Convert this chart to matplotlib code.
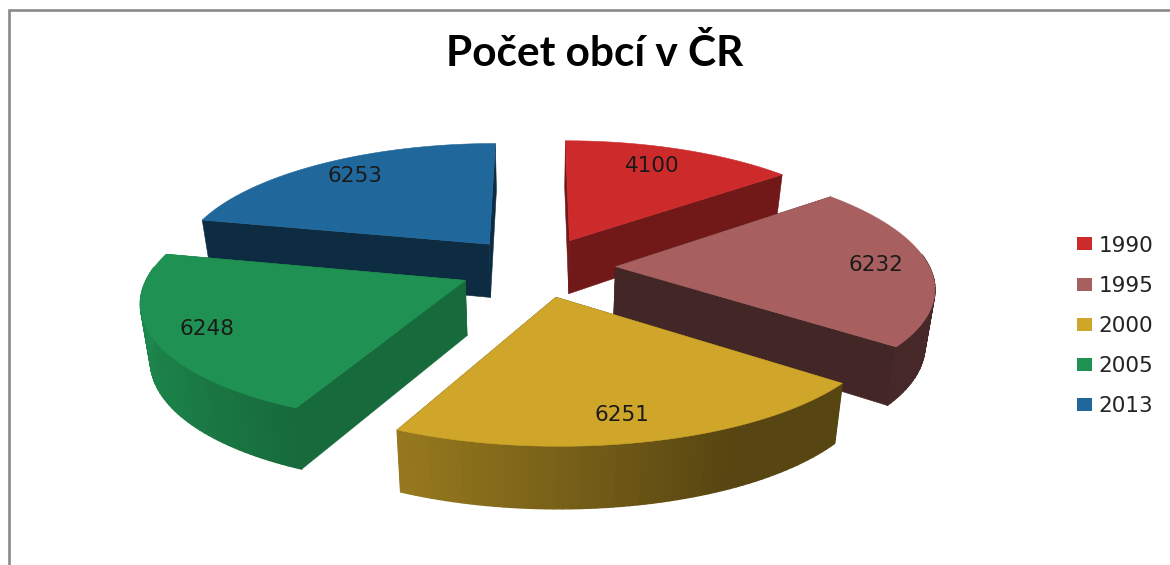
import numpy as np
import matplotlib
matplotlib.use("Agg")
import matplotlib.pyplot as plt
from matplotlib.collections import PolyCollection
from matplotlib.patches import Patch
from matplotlib.colors import to_rgb

# data
title = "Počet obcí v ČR"
years = ["1990", "1995", "2000", "2005", "2013"]
values = [4100, 6232, 6251, 6248, 6253]

# style
top_colors = ["#cd2b2b", "#a85f5f", "#cfa629", "#1f9152", "#20689c"]
face_factor = [0.55, 0.40, 0.40, 0.73, 0.42]
draw_order = [4, 0, 1, 3, 2]
label_nudge = [(-9, 1), (7, 0), (-6, 4), (-9, 2), (3, -2)]
explode = 0.25
cx, cy, fx, fy, persp_x, persp_y = 537.0, 267.0, 314.0, 120.0, 0.15, 0.135
label_r = 0.81


def project(x, y, z=0.0):
    x, y = np.asarray(x, float), np.asarray(y, float)
    px = cx + fx * x / (1.0 + persp_x * y) * (1 - 0.025 * z)
    py = cy - fy * y / (1.0 + persp_y * y) + z * (54.5 - 6.5 * y)
    return px, py


def shade(color, k):
    return tuple(min(1.0, c * k) for c in to_rgb(color))


fig = plt.figure(figsize=(11.7, 5.65), dpi=100)
ax = fig.add_axes([0, 0, 1, 1])
ax.set_xlim(0, 1170)
ax.set_ylim(565, 0)
ax.axis("off")

# chart frame
ax.plot([9, 9, 1170], [565, 10, 10], color="#8a8a8a", lw=1.9, solid_joinstyle="miter")

edges = np.concatenate([[0], np.cumsum(values)]) / np.sum(values) * 2 * np.pi

for i in draw_order:
    a0, a1 = edges[i], edges[i + 1]
    am = (a0 + a1) / 2
    ox, oy = explode * np.sin(am), explode * np.cos(am)
    th = np.linspace(a0, a1, 61)
    xs, ys = ox + np.sin(th), oy + np.cos(th)
    col = top_colors[i]
    z = 2 + draw_order.index(i)

    # radial side faces
    for a in (a0, a1):
        ex, ey = ox + np.sin(a), oy + np.cos(a)
        p = [project(ox, oy), project(ex, ey), project(ex, ey, 1), project(ox, oy, 1)]
        ax.fill([float(q[0]) for q in p], [float(q[1]) for q in p],
                color=shade(col, face_factor[i]), lw=0.4, zorder=z)

    # outer wall, only where it faces the viewer, shaded by direction
    tx, ty = project(xs, ys)
    bx, by = project(xs, ys, 1)
    quads, cols = [], []
    for j in range(len(th) - 1):
        mid = (th[j] + th[j + 1]) / 2
        if np.cos(mid) > 0.1:
            continue
        quads.append([(tx[j], ty[j]), (tx[j + 1], ty[j + 1]), (bx[j + 1], by[j + 1]), (bx[j], by[j])])
        k = np.clip(0.58 - 0.35 * np.sin(mid), 0.42, 1.0)
        cols.append(shade(col, k))
    if quads:
        ax.add_collection(PolyCollection(quads, facecolors=cols, edgecolors=cols, linewidths=1.0,
                                         zorder=z))

    # top face
    px, py = project(np.r_[ox, xs], np.r_[oy, ys])
    ax.fill(px, py, color=col, lw=0.4, zorder=z)

    # value label
    lx, ly = project(ox + label_r * np.sin(am), oy + label_r * np.cos(am))
    ax.text(float(lx) + label_nudge[i][0], float(ly) + label_nudge[i][1], str(values[i]),
            ha="center", va="center", fontsize=15.5,
            family="DejaVu Sans", color="#1a1a1a", zorder=20)

ax.text(595, 53, title, ha="center", va="center", fontsize=30.5, fontweight="bold",
        family="Lato", color="black")

handles = [Patch(facecolor=c, edgecolor="none", label=y) for c, y in zip(top_colors, years)]
ax.legend(handles=handles, loc="center left", bbox_to_anchor=(1064 / 1170, 1 - 326 / 565),
          frameon=False, prop={"family": "DejaVu Sans", "size": 15.5}, labelcolor="#222222",
          handlelength=0.72, handleheight=0.55, handletextpad=0.3, labelspacing=0.94,
          borderpad=0, borderaxespad=0.6)

fig.savefig("out.png", dpi=100, facecolor="white")
